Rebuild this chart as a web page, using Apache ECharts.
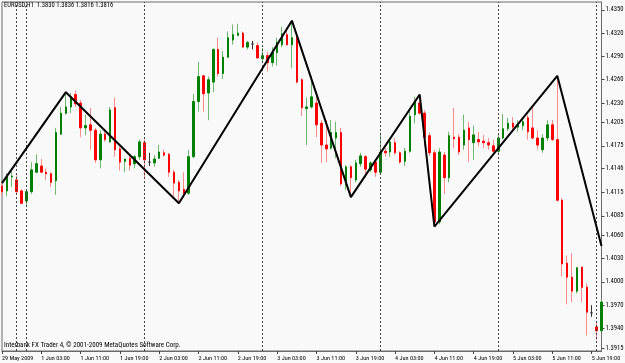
<!DOCTYPE html>
<html>
<head>
<meta charset="utf-8">
<script src="https://cdn.jsdelivr.net/npm/echarts@6/dist/echarts.min.js"></script>
<style>
  html, body { margin: 0; padding: 0; background: #f9f9f9; }
  #chart { width: 625px; height: 363px; }
</style>
</head>
<body>
<div id="chart"></div>
<script>
// EURUSD H1, 29 May 2009 - 5 Jun 2009

// bar times (hourly, weekend gap)
function buildTimes() {
    var out = [];
    function push(d, h) { out.push(d + ' ' + (h < 10 ? '0' : '') + h + ':00'); }
    [21, 22, 23].forEach(function (h) { push('29 May', h); });
    [22, 23].forEach(function (h) { push('31 May', h); });
    ['1 Jun', '2 Jun', '3 Jun', '4 Jun', '5 Jun'].forEach(function (d, i) {
        for (var h = 0; h < 24; h++) {
            if (i === 4 && h > 21) break;
            push(d, h);
        }
    });
    return out;
}
var times = buildTimes();

var xTickLabels = ['29 May 2009', '1 Jun 03:00', '1 Jun 11:00', '1 Jun 19:00', '2 Jun 03:00', '2 Jun 11:00',
    '2 Jun 19:00', '3 Jun 03:00', '3 Jun 11:00', '3 Jun 19:00', '4 Jun 03:00', '4 Jun 11:00',
    '4 Jun 19:00', '5 Jun 03:00', '5 Jun 11:00', '5 Jun 19:00'];

var yTicks = [1.3915, 1.3940, 1.3970, 1.4000, 1.4030, 1.4060, 1.4085, 1.4115, 1.4146,
    1.4175, 1.4205, 1.4230, 1.4260, 1.4290, 1.4320, 1.4350];

// day separators
var separators = ['31 May 22:00', '1 Jun 00:00', '2 Jun 00:00', '3 Jun 00:00', '4 Jun 00:00', '5 Jun 00:00', '5 Jun 20:00'];

var open = [
    1.4123, 1.4117, 1.4135, 1.4131, 1.4117, 1.4104, 1.4116, 1.4141, 1.4149, 1.4141,
    1.4139, 1.4130, 1.4190, 1.4217, 1.4225, 1.4241, 1.4230, 1.4198, 1.4202, 1.4195,
    1.4157, 1.4190, 1.4180, 1.4224, 1.4171, 1.4155, 1.4159, 1.4152, 1.4161, 1.4179,
    1.4154, 1.4153, 1.4159, 1.4166, 1.4164, 1.4141, 1.4128, 1.4119, 1.4114, 1.4161,
    1.4232, 1.4265, 1.4243, 1.4257, 1.4299, 1.4268, 1.4289, 1.4311, 1.4317, 1.4320,
    1.4302, 1.4306, 1.4304, 1.4287, 1.4291, 1.4282, 1.4295, 1.4305, 1.4318, 1.4305,
    1.4314, 1.4260, 1.4223, 1.4225, 1.4230, 1.4204, 1.4176, 1.4172, 1.4185, 1.4192,
    1.4125, 1.4148, 1.4131, 1.4152, 1.4161, 1.4144, 1.4154, 1.4141, 1.4168, 1.4167,
    1.4179, 1.4166, 1.4155, 1.4168, 1.4215, 1.4230, 1.4217, 1.4188, 1.4166, 1.4077,
    1.4163, 1.4134, 1.4186, 1.4186, 1.4176, 1.4198, 1.4179, 1.4183, 1.4181, 1.4179,
    1.4175, 1.4168, 1.4185, 1.4197, 1.4204, 1.4199, 1.4201, 1.4211, 1.4198, 1.4185,
    1.4170, 1.4185, 1.4202, 1.4183, 1.4105, 1.4024, 1.4006, 1.3988, 1.4019, 1.3993,
    1.3960, 1.3942, 1.3937
];
var close = [
    1.4116, 1.4135, 1.4136, 1.4116, 1.4101, 1.4116, 1.4144, 1.4152, 1.4141, 1.4139,
    1.4128, 1.4192, 1.4217, 1.4225, 1.4238, 1.4229, 1.4198, 1.4201, 1.4195, 1.4157,
    1.4190, 1.4183, 1.4221, 1.4170, 1.4154, 1.4158, 1.4150, 1.4161, 1.4180, 1.4157,
    1.4154, 1.4158, 1.4167, 1.4163, 1.4141, 1.4127, 1.4117, 1.4114, 1.4161, 1.4232,
    1.4264, 1.4242, 1.4260, 1.4299, 1.4268, 1.4289, 1.4314, 1.4318, 1.4320, 1.4302,
    1.4308, 1.4306, 1.4288, 1.4291, 1.4282, 1.4295, 1.4308, 1.4319, 1.4305, 1.4314,
    1.4257, 1.4224, 1.4225, 1.4238, 1.4202, 1.4176, 1.4171, 1.4192, 1.4192, 1.4126,
    1.4148, 1.4134, 1.4153, 1.4162, 1.4145, 1.4153, 1.4141, 1.4167, 1.4166, 1.4180,
    1.4166, 1.4154, 1.4168, 1.4213, 1.4232, 1.4217, 1.4186, 1.4166, 1.4077, 1.4167,
    1.4134, 1.4188, 1.4184, 1.4167, 1.4195, 1.4183, 1.4189, 1.4180, 1.4179, 1.4176,
    1.4168, 1.4185, 1.4197, 1.4204, 1.4199, 1.4202, 1.4206, 1.4193, 1.4185, 1.4176,
    1.4185, 1.4202, 1.4183, 1.4105, 1.4023, 1.4006, 1.3988, 1.4018, 1.3993, 1.3961,
    1.3960, 1.3937, 1.3974
];
var low = [
    1.4110, 1.4110, 1.4122, 1.4112, 1.4100, 1.4098, 1.4113, 1.4140, 1.4140, 1.4131,
    1.4122, 1.4112, 1.4189, 1.4215, 1.4217, 1.4225, 1.4186, 1.4189, 1.4170, 1.4153,
    1.4146, 1.4180, 1.4179, 1.4161, 1.4143, 1.4141, 1.4143, 1.4146, 1.4157, 1.4132,
    1.4149, 1.4148, 1.4158, 1.4161, 1.4135, 1.4110, 1.4101, 1.4108, 1.4112, 1.4159,
    1.4219, 1.4219, 1.4208, 1.4244, 1.4264, 1.4261, 1.4288, 1.4305, 1.4317, 1.4301,
    1.4299, 1.4299, 1.4287, 1.4282, 1.4271, 1.4277, 1.4278, 1.4302, 1.4304, 1.4275,
    1.4255, 1.4213, 1.4176, 1.4223, 1.4186, 1.4153, 1.4154, 1.4170, 1.4159, 1.4123,
    1.4118, 1.4109, 1.4128, 1.4148, 1.4134, 1.4141, 1.4135, 1.4140, 1.4161, 1.4161,
    1.4163, 1.4152, 1.4149, 1.4166, 1.4204, 1.4215, 1.4174, 1.4162, 1.4071, 1.4074,
    1.4113, 1.4128, 1.4172, 1.4163, 1.4170, 1.4154, 1.4157, 1.4174, 1.4172, 1.4170,
    1.4163, 1.4164, 1.4183, 1.4194, 1.4195, 1.4193, 1.4195, 1.4183, 1.4183, 1.4170,
    1.4166, 1.4181, 1.4181, 1.4103, 1.4007, 1.3971, 1.3974, 1.3985, 1.3974, 1.3931,
    1.3955, 1.3925, 1.3936
];
var high = [
    1.4127, 1.4140, 1.4144, 1.4137, 1.4119, 1.4118, 1.4154, 1.4164, 1.4158, 1.4146,
    1.4141, 1.4198, 1.4225, 1.4244, 1.4243, 1.4246, 1.4234, 1.4215, 1.4224, 1.4198,
    1.4195, 1.4193, 1.4225, 1.4237, 1.4174, 1.4158, 1.4163, 1.4163, 1.4183, 1.4183,
    1.4166, 1.4163, 1.4176, 1.4170, 1.4166, 1.4144, 1.4131, 1.4141, 1.4170, 1.4242,
    1.4283, 1.4266, 1.4264, 1.4300, 1.4314, 1.4297, 1.4322, 1.4331, 1.4332, 1.4322,
    1.4310, 1.4310, 1.4308, 1.4301, 1.4296, 1.4302, 1.4314, 1.4328, 1.4327, 1.4336,
    1.4320, 1.4262, 1.4237, 1.4265, 1.4238, 1.4208, 1.4208, 1.4208, 1.4206, 1.4198,
    1.4150, 1.4150, 1.4157, 1.4166, 1.4163, 1.4155, 1.4157, 1.4192, 1.4172, 1.4185,
    1.4185, 1.4168, 1.4172, 1.4221, 1.4238, 1.4241, 1.4221, 1.4192, 1.4170, 1.4172,
    1.4167, 1.4193, 1.4224, 1.4190, 1.4215, 1.4206, 1.4201, 1.4193, 1.4189, 1.4185,
    1.4183, 1.4189, 1.4216, 1.4211, 1.4212, 1.4208, 1.4211, 1.4215, 1.4225, 1.4195,
    1.4190, 1.4208, 1.4208, 1.4265, 1.4108, 1.4034, 1.4037, 1.4019, 1.4019, 1.3998,
    1.3970, 1.3948, 1.3977
];

// ZigZag turning points (bar index, price)
var zigIdx = [0, 13, 36, 59, 71, 85, 88, 113, 122];
var zigVal = [1.4127, 1.4244, 1.4101, 1.4336, 1.4109, 1.4241, 1.4071, 1.4265, 1.4046];

var UP = '#008000', DOWN = '#ff0000', DOJI = '#333333';
var UP_WICK = '#6fb86f', DOWN_WICK = '#ff8a8a';

var wickData = [], bodyData = [];
for (var i = 0; i < open.length; i++) {
    var o = open[i], c = close[i];
    var w = { value: [o, c, low[i], high[i]] };
    var b = { value: [o, c, Math.min(o, c), Math.max(o, c)] };
    if (o === c) {
        w.itemStyle = { color: DOJI, borderColor: DOJI };
        b.itemStyle = { color: DOJI, borderColor: DOJI };
    }
    wickData.push(w);
    bodyData.push(b);
}

var zigData = times.map(function () { return null; });
zigIdx.forEach(function (k, j) { zigData[k] = zigVal[j]; });

var FONT = '"Roboto Condensed", "DejaVu Sans Condensed", sans-serif';

var chart = echarts.init(document.getElementById('chart'), null, { renderer: 'canvas' });

var option = {
    animation: false,
    backgroundColor: '#f9f9f9',
    textStyle: { fontFamily: FONT },
    title: [
        {
            text: 'EURUSD,H1  1.3830 1.3836 1.3816 1.3816',
            left: 4, top: 2, padding: 0,
            textStyle: { fontSize: 6.6, fontWeight: 'normal', color: '#000', fontFamily: FONT }
        },
        {
            text: 'Interbank FX Trader 4, \u00a9 2001-2009 MetaQuotes Software Corp.',
            left: 4, top: 342, padding: 0,
            textStyle: { fontSize: 7, fontWeight: 'normal', color: '#000', fontFamily: FONT }
        }
    ],
    grid: {
        left: 2, right: 23.5, top: 2, bottom: 12,
        outerBoundsMode: 'none',
        show: true, borderColor: '#6a6a6a', borderWidth: 1,
        backgroundColor: 'transparent'
    },
    xAxis: {
        type: 'category',
        data: times,
        boundaryGap: false,
        axisLine: { lineStyle: { color: '#6a6a6a' } },
        axisTick: { show: true, length: 3, interval: function (i) { return i % 8 === 0; }, lineStyle: { color: '#444' } },
        axisLabel: {
            interval: function (i) { return i % 8 === 0; },
            formatter: function (v, i) { return xTickLabels[i / 8]; },
            showMinLabel: true,
            align: 'left', margin: 4,
            fontSize: 6.2, color: '#000', fontFamily: FONT
        },
        splitLine: { show: false }
    },
    yAxis: {
        type: 'value',
        position: 'right',
        min: 1.3911, max: 1.4360,
        scale: true,
        axisLine: { show: true, lineStyle: { color: '#6a6a6a' } },
        axisTick: { show: true, length: 3, customValues: yTicks, lineStyle: { color: '#444' } },
        axisLabel: {
            customValues: yTicks,
            formatter: function (v) { return v.toFixed(4); },
            margin: 4, fontSize: 6.6, color: '#000', fontFamily: FONT
        },
        splitLine: { show: false }
    },
    series: [
        {
            name: 'wick',
            type: 'candlestick',
            data: wickData,
            barWidth: 1,
            itemStyle: { color: UP_WICK, color0: DOWN_WICK, borderColor: UP_WICK, borderColor0: DOWN_WICK, borderWidth: 1 },
            markLine: {
                silent: true,
                symbol: 'none',
                label: { show: false },
                lineStyle: { color: '#444', type: [2, 2], width: 1 },
                data: separators.map(function (t) { return { xAxis: t }; })
            }
        },
        {
            name: 'body',
            type: 'candlestick',
            data: bodyData,
            barWidth: 2,
            itemStyle: { color: UP, color0: DOWN, borderColor: UP, borderColor0: DOWN, borderWidth: 1 }
        },
        {
            name: 'zigzag',
            type: 'line',
            data: zigData,
            connectNulls: true,
            symbol: 'none',
            lineStyle: { color: '#000', width: 2 },
            z: 5
        }
    ]
};

chart.setOption(option);
</script>
</body>
</html>
